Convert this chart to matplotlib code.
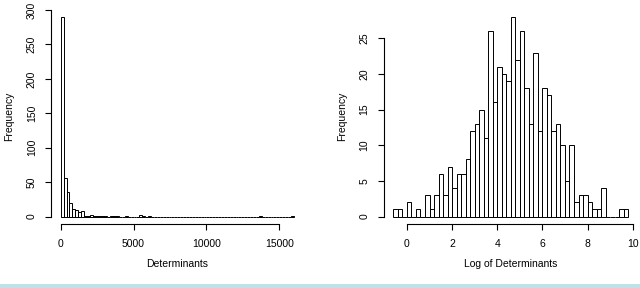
import numpy as np
import matplotlib
matplotlib.use('Agg')
import matplotlib.pyplot as plt
from matplotlib.patches import Rectangle

plt.rcParams['font.family'] = ['Liberation Sans', 'DejaVu Sans']

# Left histogram: determinants, bins of width 200 from 0 to 16000
det_bin_width = 200
det_counts = [290, 56, 35, 20, 11, 10, 6, 8, 1, 1,
              2, 1, 1, 1, 1, 1, 0, 1, 1, 1,
              0, 0, 1, 0, 0, 0, 0, 2, 1, 0,
              1, 0, 0, 0, 0, 0, 0, 0, 0, 0,
              0, 0, 0, 0, 0, 0, 0, 0, 0, 0,
              0, 0, 0, 0, 0, 0, 0, 0, 0, 0,
              0, 0, 0, 0, 0, 0, 0, 0, 1, 0,
              0, 0, 0, 0, 0, 0, 0, 0, 0, 1]
det_xticks = [0, 5000, 10000, 15000]
det_yticks = [0, 50, 100, 150, 200, 250, 300]

# Right histogram: log of determinants, bins of width 0.2 from -0.6 to 9.8
log_start = -0.6
log_bin_width = 0.2
log_counts = [1, 1, 0, 2, 0, 1, 0, 3, 1, 3,
              6, 3, 7, 4, 6, 6, 8, 12, 13, 15,
              11, 26, 16, 21, 20, 19, 28, 22, 26, 18,
              13, 23, 12, 18, 17, 12, 13, 10, 5, 10,
              2, 3, 3, 2, 1, 1, 4, 0, 0, 0,
              1, 1]
log_xticks = [0, 2, 4, 6, 8, 10]
log_yticks = [0, 5, 10, 15, 20, 25]

fig = plt.figure(figsize=(6.4, 2.88), dpi=100)
ax1 = fig.add_axes([0.0803, 0.2205, 0.3934, 0.7486])
ax2 = fig.add_axes([0.600, 0.2205, 0.3962, 0.7486])


def r_style(ax, xticks, yticks, xlabel):
    for s in ['top', 'right']:
        ax.spines[s].set_visible(False)
    ax.spines['left'].set_bounds(yticks[0], yticks[-1])
    ax.spines['bottom'].set_bounds(xticks[0], xticks[-1])
    for s in ['left', 'bottom']:
        ax.spines[s].set_linewidth(0.8)
    ax.set_xticks(xticks)
    ax.set_yticks(yticks)
    ax.set_yticklabels([str(t) for t in yticks], rotation=90, va='center')
    ax.tick_params(direction='out', length=4.5, width=0.8, labelsize=7.5, pad=6)
    ax.set_xlabel(xlabel, fontsize=7.5, labelpad=7.5)
    ax.set_ylabel('Frequency', fontsize=7.5, labelpad=9)


# Left panel
det_edges = np.arange(len(det_counts)) * det_bin_width
ax1.bar(det_edges, det_counts, width=det_bin_width, align='edge',
        fill=False, edgecolor='black', linewidth=0.7)
det_max = len(det_counts) * det_bin_width
ax1.set_xlim(-0.04 * det_max, det_max * 1.04)
ax1.set_ylim(-0.04 * max(det_counts), max(det_counts) * 1.04)
r_style(ax1, det_xticks, det_yticks, 'Determinants')

# Right panel
log_edges = log_start + np.arange(len(log_counts)) * log_bin_width
ax2.bar(log_edges, log_counts, width=log_bin_width, align='edge',
        fill=False, edgecolor='black', linewidth=0.7)
log_end = log_start + len(log_counts) * log_bin_width
rng = log_end - log_start
ax2.set_xlim(log_start - 0.04 * rng, log_end + 0.04 * rng)
ax2.set_ylim(-0.04 * max(log_counts), max(log_counts) * 1.04)
r_style(ax2, log_xticks, log_yticks, 'Log of Determinants')

# light blue band at the bottom of the image
fig.patches.append(Rectangle((0, 0), 1, 4 / 288, transform=fig.transFigure,
                             facecolor='#bfe1ea', edgecolor='none'))

fig.savefig('out.png', dpi=100)
